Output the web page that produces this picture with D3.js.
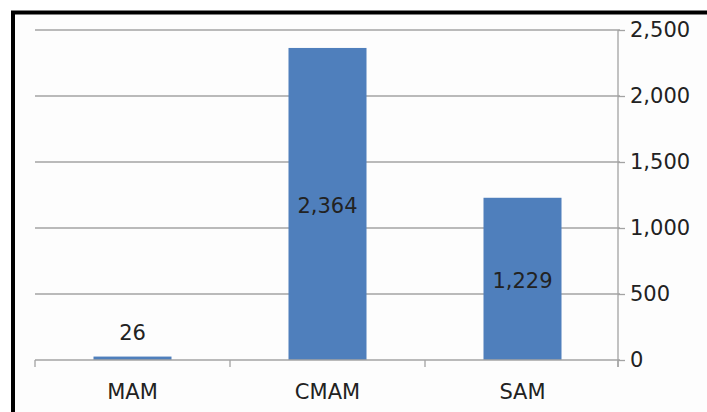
<!DOCTYPE html>
<html>
<head>
<meta charset="utf-8">
<script src="https://cdn.jsdelivr.net/npm/d3@7"></script>
<style>
  html, body { margin: 0; padding: 0; background: #ffffff; }
  svg { display: block; }
  text { font-family: "DejaVu Sans", "Liberation Sans", sans-serif; fill: #222; }
</style>
</head>
<body>
<svg id="chart" width="707" height="412"></svg>
<script>
// Programme caseload by category
const categories = ["MAM", "CMAM", "SAM"];
const values = [26, 2364, 1229];
const yTicks = [0, 500, 1000, 1500, 2000, 2500];

const W = 707, H = 412;
const plot = { left: 35, right: 620, top: 30, bottom: 360 };
const FONT = 21;

const svg = d3.select("#chart");

// frame background and border
svg.append("rect").attr("x", 13).attr("y", 12.5).attr("width", W).attr("height", H)
  .attr("fill", "#fdfdfd");
svg.append("path")
  .attr("d", `M13,${H} L13,12.5 L${W},12.5`)
  .attr("fill", "none").attr("stroke", "#000").attr("stroke-width", 4);

const x = d3.scaleBand().domain(categories)
  .range([plot.left, plot.right]).paddingInner(0.6).paddingOuter(0.3);
const y = d3.scaleLinear().domain([0, 2500]).range([plot.bottom, plot.top]);

// horizontal gridlines
svg.append("g").selectAll("line").data(yTicks.filter(d => d > 0)).join("line")
  .attr("x1", plot.left).attr("x2", plot.right)
  .attr("y1", d => y(d)).attr("y2", d => y(d))
  .attr("stroke", "#a3a3a3").attr("stroke-width", 1.3);

// right value axis
const yAxis = d3.axisRight(y).tickValues(yTicks).tickSize(7).tickPadding(6)
  .tickFormat(d3.format(","));
const gy = svg.append("g").attr("transform", `translate(${plot.right - 2},0)`).call(yAxis);
gy.select(".domain").attr("stroke", "#a3a3a3").attr("stroke-width", 1.3)
  .attr("d", `M0,${plot.top}V${plot.bottom + 7}`);
gy.selectAll(".tick line").attr("stroke", "#a3a3a3").attr("stroke-width", 1.3);
gy.selectAll(".tick text").attr("font-size", FONT).attr("fill", "#222")
  .attr("font-family", null).attr("x", 12);

// bars
svg.append("g").selectAll("rect").data(values).join("rect")
  .attr("x", (d, i) => x(categories[i]))
  .attr("width", x.bandwidth())
  .attr("y", d => y(d))
  .attr("height", d => y(0) - y(d))
  .attr("fill", "#4f7fbc");

// category axis
const xAxis = d3.axisBottom(x).tickSize(0).tickPadding(24);
const gx = svg.append("g").attr("transform", `translate(0,${plot.bottom})`).call(xAxis);
gx.select(".domain").remove();
gx.selectAll(".tick text").attr("font-size", FONT).attr("fill", "#222").attr("font-family", null);
const bounds = [plot.left, plot.left + x.step() * 1, plot.left + x.step() * 2, plot.right - 2];
const xl = svg.append("g").attr("stroke", "#a3a3a3").attr("stroke-width", 1.3);
xl.append("line").attr("x1", plot.left).attr("x2", plot.right).attr("y1", plot.bottom).attr("y2", plot.bottom);
xl.selectAll(".sep").data(bounds).join("line").attr("class", "sep")
  .attr("x1", d => d).attr("x2", d => d)
  .attr("y1", plot.bottom).attr("y2", plot.bottom + 7);

// value labels: centred inside tall bars, above short ones
svg.append("g").selectAll("text").data(values).join("text")
  .attr("x", (d, i) => x(categories[i]) + x.bandwidth() / 2)
  .attr("y", d => (y(0) - y(d) > 40 ? (y(d) + y(0)) / 2 + 2 : y(d) - 24))
  .attr("dy", "0.35em")
  .attr("text-anchor", "middle")
  .attr("font-size", FONT)
  .text(d => d3.format(",")(d));
</script>
</body>
</html>
